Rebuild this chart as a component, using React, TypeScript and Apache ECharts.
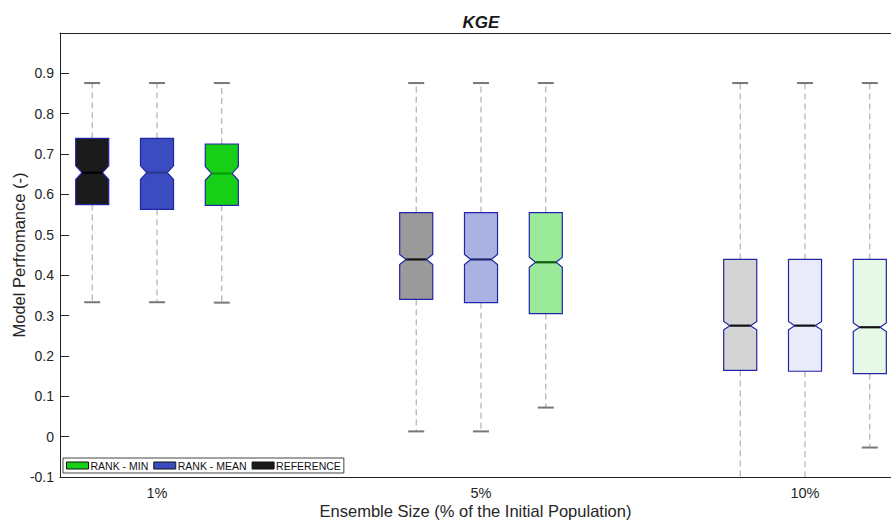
import React, { useEffect, useRef } from 'react';
import * as echarts from 'echarts';

// Categories (ensemble size) and their positions on the x axis
const categories = ['1%', '5%', '10%'];
const categoryPositions = [1, 2, 3];

// Methods, in drawing order inside each group, and their offsets
const methods = ['REFERENCE', 'RANK - MEAN', 'RANK - MIN'];
const methodOffsets = [-0.2, 0, 0.2];
const legendOrder = ['RANK - MIN', 'RANK - MEAN', 'REFERENCE'];

// Box statistics per group: [whiskerLow, q1, median, q3, whiskerHigh]
const referenceStats = [
  [0.333, 0.575, 0.654, 0.739, 0.876],
  [0.013, 0.34, 0.439, 0.555, 0.876],
  [-0.13, 0.164, 0.275, 0.439, 0.876],
];
const rankMeanStats = [
  [0.333, 0.563, 0.654, 0.739, 0.876],
  [0.013, 0.332, 0.439, 0.555, 0.876],
  [-0.13, 0.162, 0.275, 0.439, 0.876],
];
const rankMinStats = [
  [0.332, 0.573, 0.652, 0.725, 0.876],
  [0.072, 0.305, 0.432, 0.555, 0.876],
  [-0.027, 0.156, 0.271, 0.439, 0.876],
];
// Notch half-height per group (in KGE units)
const notchHalf = [0.017, 0.0125, 0.0105];

// Colours
const legendColors = ['#1b1b1b', '#3a4cbf', '#18cf18'];
const fillColors = [
  ['#1b1b1b', '#9a9a9a', '#d4d4d4'],
  ['#3a4cbf', '#aab2e2', '#e9ebf8'],
  ['#18cf18', '#9aea9a', '#e6f9e6'],
];
const medianColors = [
  ['#000000', '#111111', '#111111'],
  ['#2b3a96', '#1f2a70', '#111111'],
  ['#0a9a0a', '#0a5a0a', '#111111'],
];

const yMin = -0.1;
const yMax = 1.0;
const yInterval = 0.1;
const xMin = 0.7006;
const xMax = 3.2654;
const boxWidth = 0.102;

const FONT = 'Liberation Sans, Arial, Helvetica, sans-serif';

const allStats = [referenceStats, rankMeanStats, rankMinStats];

export default function App() {
  const ref = useRef<HTMLDivElement>(null);

  useEffect(() => {
    const chart = echarts.init(ref.current!, null, { renderer: 'svg' });

    const renderItem = (params: any, api: any) => {
      const si = params.seriesIndex;
      const x = api.value(0);
      const wLow = api.value(1);
      const q1 = api.value(2);
      const med = api.value(3);
      const q3 = api.value(4);
      const wHigh = api.value(5);
      const nh = api.value(6);
      const gi = api.value(7);
      const cx = api.coord([x, med])[0];
      const y = (v: number) => api.coord([x, v])[1];
      const hw = api.size([boxWidth, 0])[0] / 2;
      const inset = hw * 0.38;
      const yQ1 = y(q1);
      const yQ3 = y(q3);
      const yMed = y(med);
      const yNT = y(med + nh);
      const yNB = y(med - nh);
      const yWH = y(wHigh);
      const yWL = y(Math.max(wLow, yMin));
      const children: any[] = [];
      const whiskerStyle = { stroke: '#a0a0a0', lineWidth: 1, lineDash: [6, 4] };
      children.push({ type: 'line', shape: { x1: cx, y1: yQ3, x2: cx, y2: yWH }, style: whiskerStyle });
      children.push({ type: 'line', shape: { x1: cx, y1: yQ1, x2: cx, y2: yWL }, style: whiskerStyle });
      children.push({ type: 'line', shape: { x1: cx - 8, y1: yWH, x2: cx + 8, y2: yWH }, style: { stroke: '#777', lineWidth: 2 } });
      if (wLow >= yMin) {
        children.push({ type: 'line', shape: { x1: cx - 8, y1: yWL, x2: cx + 8, y2: yWL }, style: { stroke: '#777', lineWidth: 2 } });
      }
      children.push({
        type: 'polygon',
        shape: {
          points: [
            [cx - hw, yQ3], [cx + hw, yQ3], [cx + hw, yNT], [cx + hw - inset, yMed], [cx + hw, yNB],
            [cx + hw, yQ1], [cx - hw, yQ1], [cx - hw, yNB], [cx - hw + inset, yMed], [cx - hw, yNT],
          ],
        },
        style: { fill: fillColors[si][gi], stroke: '#2424a8', lineWidth: 1.2 },
      });
      children.push({
        type: 'line',
        shape: { x1: cx - hw + inset, y1: yMed, x2: cx + hw - inset, y2: yMed },
        style: { stroke: medianColors[si][gi], lineWidth: 2.2 },
      });
      return { type: 'group', children };
    };

    const series = methods.map((name, mi) => ({
      name,
      type: 'custom',
      renderItem,
      itemStyle: { color: legendColors[mi] },
      encode: { x: 0, y: [1, 2, 3, 4, 5] },
      data: allStats[mi].map((s, gi) => [
        categoryPositions[gi] + methodOffsets[mi],
        s[0], s[1], s[2], s[3], s[4],
        notchHalf[gi],
        gi,
      ]),
      z: 2,
    }));

    chart.setOption({
      animation: false,
      backgroundColor: '#ffffff',
      textStyle: { fontFamily: FONT },
      title: {
        text: 'KGE',
        left: 476,
        textAlign: 'center',
        top: 9,
        textStyle: { fontSize: 17, fontWeight: 'bold', fontStyle: 'italic', color: '#1a1a1a', fontFamily: FONT },
      },
      legend: {
        data: legendOrder,
        left: 63,
        top: 458,
        orient: 'horizontal',
        icon: 'rect',
        itemWidth: 22,
        itemHeight: 7,
        itemGap: 5,
        padding: [2, 3],
        borderColor: '#444',
        borderWidth: 1,
        backgroundColor: '#ffffff',
        itemStyle: { borderColor: '#111', borderWidth: 1 },
        textStyle: { fontSize: 10.5, color: '#111', fontFamily: FONT, padding: [0, 0, 0, -3] },
        selectedMode: false,
        z: 10,
      },
      grid: { left: 60, right: 0, top: 33, bottom: 46, containLabel: false, outerBoundsMode: 'none' },
      xAxis: [
        {
          type: 'value',
          min: xMin,
          max: xMax,
          name: 'Ensemble Size (% of the Initial Population)',
          nameLocation: 'middle',
          nameGap: 25,
          nameMoveOverlap: false,
          nameTextStyle: { fontSize: 16.5, color: '#262626', fontFamily: FONT },
          axisLine: { show: true, onZero: false, lineStyle: { color: '#222', width: 1 } },
          axisTick: { show: false },
          axisLabel: {
            customValues: categoryPositions,
            formatter: (v: number) => categories[categoryPositions.indexOf(Math.round(v))] ?? '',
            fontSize: 14.5,
            color: '#262626',
            margin: 8,
            fontFamily: FONT,
          },
          splitLine: { show: false },
        },
        {
          type: 'value',
          position: 'top',
          min: xMin,
          max: xMax,
          axisLine: { show: true, onZero: false, lineStyle: { color: '#222', width: 1 } },
          axisTick: { show: false },
          axisLabel: { show: false },
          splitLine: { show: false },
        },
      ],
      yAxis: {
        type: 'value',
        min: yMin,
        max: yMax,
        interval: yInterval,
        name: 'Model Perfromance (-)',
        nameLocation: 'middle',
        nameGap: 33,
        nameMoveOverlap: false,
        nameTextStyle: { fontSize: 16.5, color: '#262626', fontFamily: FONT },
        axisLine: { show: true, onZero: false, lineStyle: { color: '#222', width: 1 } },
        axisTick: { show: true, inside: true, length: 9, lineStyle: { color: '#222' } },
        axisLabel: {
          fontSize: 14,
          color: '#262626',
          margin: 6,
          fontFamily: FONT,
          formatter: (v: number) => (v > 0.95 ? '' : Math.abs(v) < 1e-9 ? '0' : v.toFixed(1)),
        },
        splitLine: { show: false },
      },
      series,
    });

    return () => chart.dispose();
  }, []);

  return <div ref={ref} style={{ position: 'fixed', left: 0, top: 0, width: 891, height: 523 }} />;
}
